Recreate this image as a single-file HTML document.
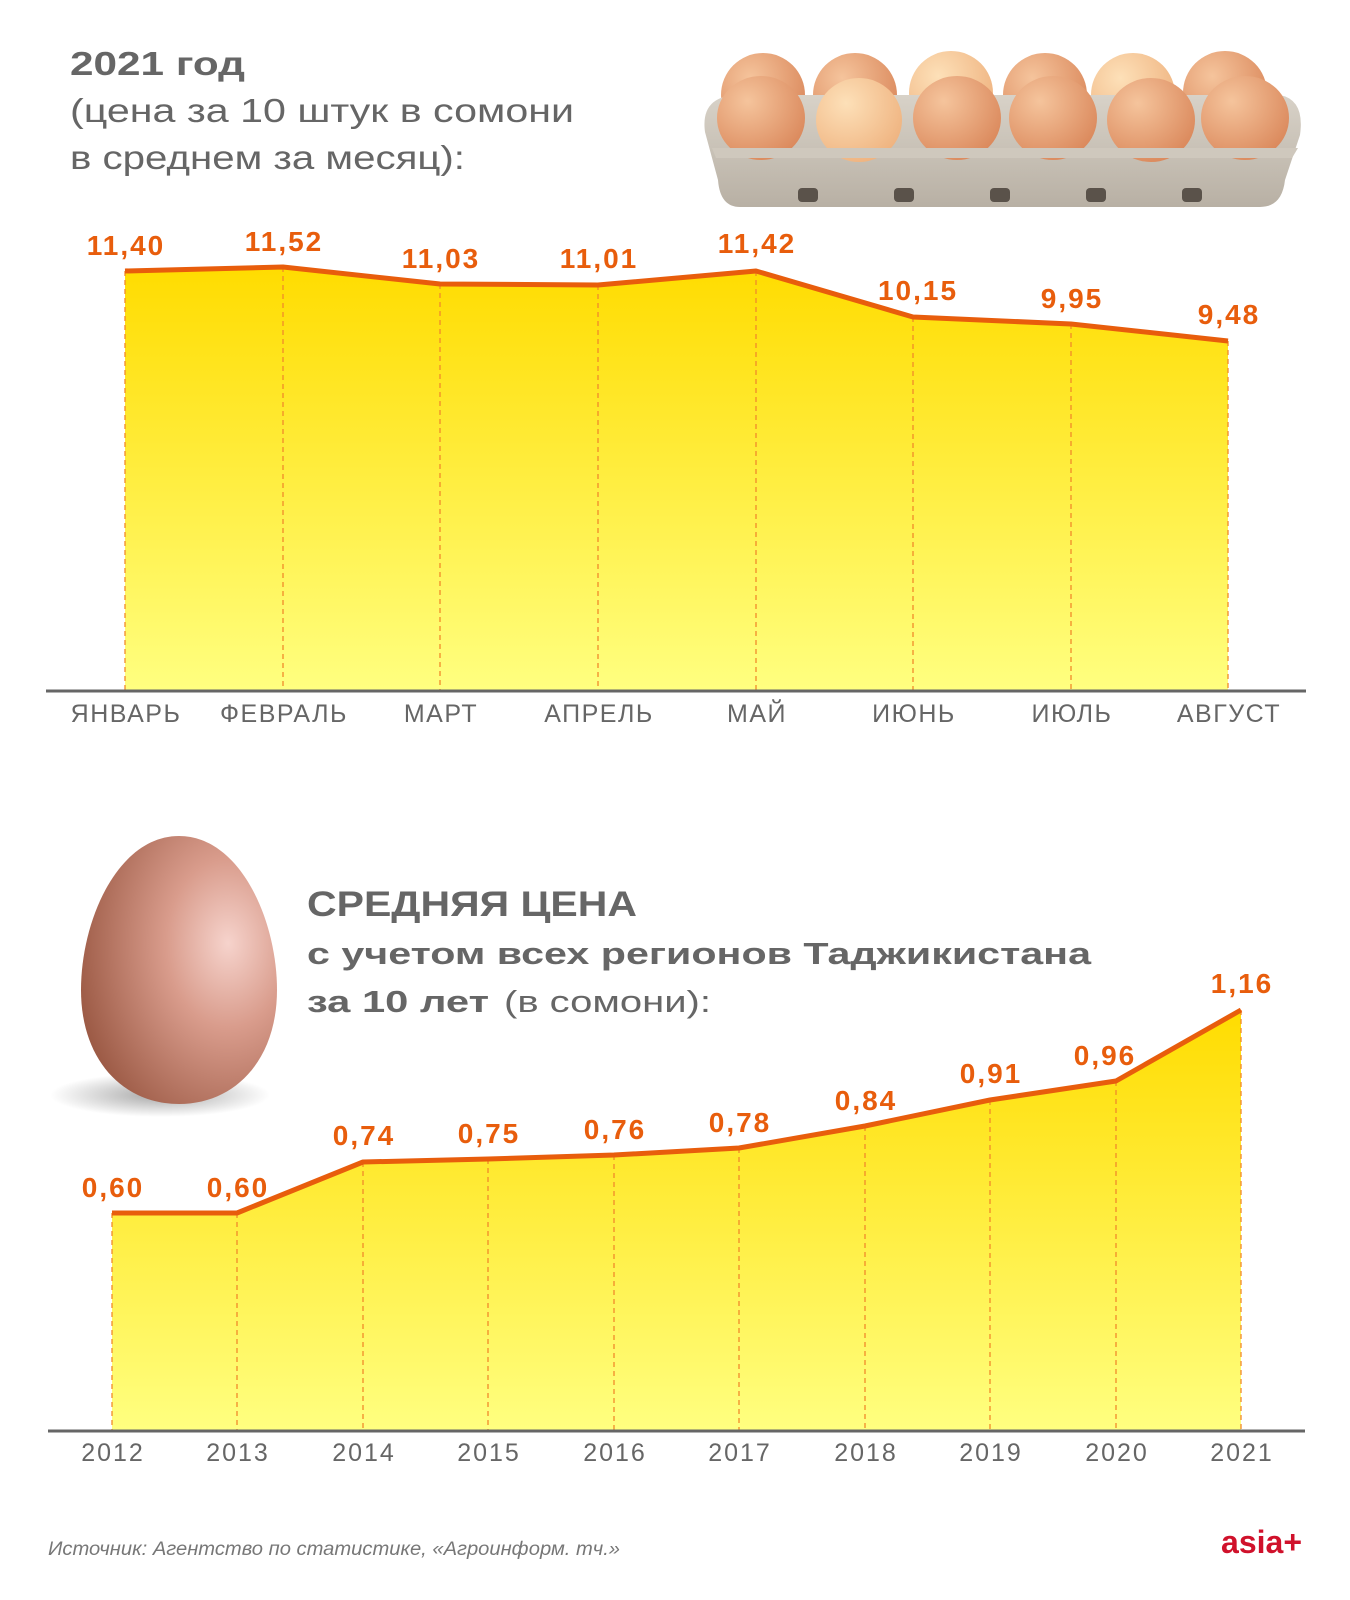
<!DOCTYPE html>
<html><head><meta charset="utf-8"><style>
html,body{margin:0;padding:0;background:#fff;}
svg{display:block}
text{font-family:"Liberation Sans",sans-serif;}
</style></head><body>
<svg width="1350" height="1600" viewBox="0 0 1350 1600" xmlns="http://www.w3.org/2000/svg">
<defs>
<linearGradient id="fill" x1="0" y1="0" x2="0" y2="1">
<stop offset="0" stop-color="#ffdc00"/><stop offset="1" stop-color="#ffff80"/></linearGradient>
<radialGradient id="egg" cx="0.75" cy="0.4" r="0.9">
<stop offset="0" stop-color="#f6d3cc"/><stop offset="0.35" stop-color="#d99c8c"/><stop offset="1" stop-color="#8e4b35"/></radialGradient>
<radialGradient id="shadow" cx="0.5" cy="0.5" r="0.5">
<stop offset="0" stop-color="#000" stop-opacity="0.35"/><stop offset="1" stop-color="#000" stop-opacity="0"/></radialGradient>
<radialGradient id="e1" cx="0.35" cy="0.3" r="0.8"><stop offset="0" stop-color="#f5c49c"/><stop offset="1" stop-color="#d98558"/></radialGradient>
<radialGradient id="e2" cx="0.35" cy="0.3" r="0.8"><stop offset="0" stop-color="#fde0b8"/><stop offset="1" stop-color="#eeb07c"/></radialGradient>
<linearGradient id="tray" x1="0" y1="0" x2="0" y2="1"><stop offset="0" stop-color="#d8d2c8"/><stop offset="1" stop-color="#b8b0a4"/></linearGradient>
</defs>

<!-- Title 1 -->
<text x="70" y="75" font-size="33" font-weight="bold" fill="#666" textLength="175" lengthAdjust="spacingAndGlyphs">2021 год</text>
<text x="70" y="122" font-size="33" fill="#666" textLength="504" lengthAdjust="spacingAndGlyphs">(цена за 10 штук в сомони</text>
<text x="70" y="169" font-size="33" fill="#666" textLength="395" lengthAdjust="spacingAndGlyphs">в среднем за месяц):</text>

<!-- Egg tray -->
<g>
<g fill="url(#e1)">
<ellipse cx="763" cy="95" rx="42" ry="42"/><ellipse cx="855" cy="95" rx="42" ry="42"/>
<ellipse cx="951" cy="93" rx="42" ry="42" fill="url(#e2)"/><ellipse cx="1045" cy="95" rx="42" ry="42"/>
<ellipse cx="1133" cy="95" rx="42" ry="42" fill="url(#e2)"/><ellipse cx="1225" cy="93" rx="42" ry="42"/>
</g>
<path d="M705,132 Q700,95 740,95 L1280,95 Q1305,100 1300,135 L1285,180 Q1282,207 1260,207 L740,207 Q720,207 718,180 Z" fill="url(#tray)"/>
<g fill="url(#e1)">
<ellipse cx="761" cy="118" rx="44" ry="42"/><ellipse cx="859" cy="120" rx="43" ry="42" fill="url(#e2)"/>
<ellipse cx="957" cy="118" rx="44" ry="42"/><ellipse cx="1053" cy="118" rx="44" ry="42"/>
<ellipse cx="1151" cy="120" rx="44" ry="42"/><ellipse cx="1245" cy="118" rx="44" ry="42"/>
</g>
<path d="M712,148 L1298,148 L1292,158 L716,158 Z" fill="#cfc8bd"/>
<g fill="#5a524a"><rect x="798" y="188" width="20" height="14" rx="4"/><rect x="894" y="188" width="20" height="14" rx="4"/><rect x="990" y="188" width="20" height="14" rx="4"/><rect x="1086" y="188" width="20" height="14" rx="4"/><rect x="1182" y="188" width="20" height="14" rx="4"/></g>
</g>

<!-- Chart 1 -->
<polygon fill="url(#fill)" points="125,271 283,267 440,284 598,285 756,271 913,317 1071,324 1228,341 1228,690 125,690"/>
<g stroke="#f08a2a" stroke-width="1.3" stroke-dasharray="5,4">
<line x1="125" y1="271" x2="125" y2="690"/><line x1="283" y1="267" x2="283" y2="690"/><line x1="440" y1="284" x2="440" y2="690"/><line x1="598" y1="285" x2="598" y2="690"/><line x1="756" y1="271" x2="756" y2="690"/><line x1="913" y1="317" x2="913" y2="690"/><line x1="1071" y1="324" x2="1071" y2="690"/><line x1="1228" y1="341" x2="1228" y2="690"/>
</g>
<polyline fill="none" stroke="#e85d0c" stroke-width="5" stroke-linejoin="round" points="125,271 283,267 440,284 598,285 756,271 913,317 1071,324 1228,341"/>
<line x1="46" y1="691" x2="1306" y2="691" stroke="#666" stroke-width="3"/>
<g font-size="28" font-weight="bold" fill="#e85d0c" text-anchor="middle" letter-spacing="2">
<text x="126" y="255">11,40</text><text x="284" y="251">11,52</text><text x="441" y="268">11,03</text><text x="599" y="268">11,01</text><text x="757" y="253">11,42</text><text x="918" y="300">10,15</text><text x="1072" y="308">9,95</text><text x="1229" y="324">9,48</text>
</g>
<g font-size="25" fill="#666" text-anchor="middle" letter-spacing="1.5">
<text x="126" y="722">ЯНВАРЬ</text><text x="284" y="722">ФЕВРАЛЬ</text><text x="441" y="722">МАРТ</text><text x="599" y="722">АПРЕЛЬ</text><text x="757" y="722">МАЙ</text><text x="914" y="722">ИЮНЬ</text><text x="1072" y="722">ИЮЛЬ</text><text x="1229" y="722">АВГУСТ</text>
</g>

<!-- Egg -->
<ellipse cx="160" cy="1095" rx="110" ry="22" fill="url(#shadow)"/>
<path d="M179,836 C240,836 277,920 277,990 C277,1060 235,1104 179,1104 C123,1104 81,1060 81,990 C81,920 118,836 179,836 Z" fill="url(#egg)"/>

<!-- Title 2 -->
<text x="307" y="916" font-size="35" font-weight="bold" fill="#666" textLength="330" lengthAdjust="spacingAndGlyphs">СРЕДНЯЯ ЦЕНА</text>
<text x="307" y="964" font-size="31" font-weight="bold" fill="#666" textLength="784" lengthAdjust="spacingAndGlyphs">с учетом всех регионов Таджикистана</text>
<text x="307" y="1012" font-size="31" font-weight="bold" fill="#666" textLength="182" lengthAdjust="spacingAndGlyphs">за 10 лет</text>
<text x="504" y="1012" font-size="31" fill="#666" textLength="207" lengthAdjust="spacingAndGlyphs">(в сомони):</text>

<!-- Chart 2 -->
<polygon fill="url(#fill)" points="112,1213 237,1213 363,1162 488,1159 614,1155 739,1148 865,1126 990,1100 1116,1081 1241,1010 1241,1430 112,1430"/>
<g stroke="#f08a2a" stroke-width="1.3" stroke-dasharray="5,4">
<line x1="112" y1="1213" x2="112" y2="1430"/><line x1="237" y1="1213" x2="237" y2="1430"/><line x1="363" y1="1162" x2="363" y2="1430"/><line x1="488" y1="1159" x2="488" y2="1430"/><line x1="614" y1="1155" x2="614" y2="1430"/><line x1="739" y1="1148" x2="739" y2="1430"/><line x1="865" y1="1126" x2="865" y2="1430"/><line x1="990" y1="1100" x2="990" y2="1430"/><line x1="1116" y1="1081" x2="1116" y2="1430"/><line x1="1241" y1="1010" x2="1241" y2="1430"/>
</g>
<polyline fill="none" stroke="#e85d0c" stroke-width="5" stroke-linejoin="round" points="112,1213 237,1213 363,1162 488,1159 614,1155 739,1148 865,1126 990,1100 1116,1081 1241,1010"/>
<line x1="48" y1="1431" x2="1305" y2="1431" stroke="#666" stroke-width="3"/>
<g font-size="28" font-weight="bold" fill="#e85d0c" text-anchor="middle" letter-spacing="2">
<text x="113" y="1197">0,60</text><text x="238" y="1197">0,60</text><text x="364" y="1145">0,74</text><text x="489" y="1143">0,75</text><text x="615" y="1139">0,76</text><text x="740" y="1132">0,78</text><text x="866" y="1110">0,84</text><text x="991" y="1083">0,91</text><text x="1105" y="1065">0,96</text><text x="1242" y="993">1,16</text>
</g>
<g font-size="25" fill="#666" text-anchor="middle" letter-spacing="2">
<text x="113" y="1461">2012</text><text x="238" y="1461">2013</text><text x="364" y="1461">2014</text><text x="489" y="1461">2015</text><text x="615" y="1461">2016</text><text x="740" y="1461">2017</text><text x="866" y="1461">2018</text><text x="991" y="1461">2019</text><text x="1117" y="1461">2020</text><text x="1242" y="1461">2021</text>
</g>

<text x="48" y="1555" font-size="19" font-style="italic" fill="#777" textLength="572" lengthAdjust="spacingAndGlyphs">Источник: Агентство по статистике, «Агроинформ. тч.»</text>
<text x="1302" y="1553" font-size="32" font-weight="bold" fill="#d0112b" text-anchor="end">asia+</text>
</svg>
</body></html>
